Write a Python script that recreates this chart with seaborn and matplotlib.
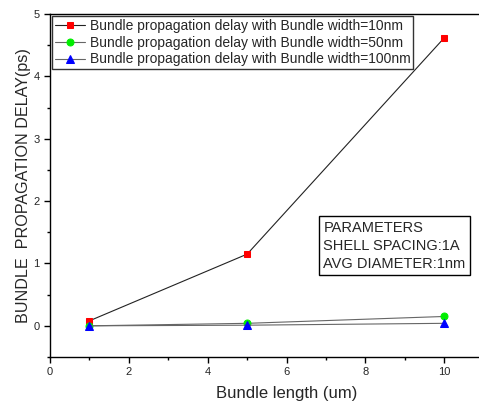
import matplotlib
matplotlib.use("Agg")
import matplotlib.pyplot as plt
import seaborn as sns
import pandas as pd
from matplotlib.ticker import MultipleLocator

bundle_length = [1, 5, 10]
delay_10nm = [0.08, 1.15, 4.62]
delay_50nm = [0.0, 0.04, 0.15]
delay_100nm = [0.0, 0.01, 0.04]

labels = [
    "Bundle propagation delay with Bundle width=10nm",
    "Bundle propagation delay with Bundle width=50nm",
    "Bundle propagation delay with Bundle width=100nm",
]

sns.set_theme(style="ticks")
plt.rcParams["font.family"] = ["Liberation Sans", "DejaVu Sans"]

fig = plt.figure(figsize=(4.79, 4.03), dpi=100)
ax = fig.add_axes([50 / 479, 46 / 403, 1 - 50 / 479 + 0.01, 343 / 403])

series = [
    (delay_10nm, "s", "#ff0000", "#222222", 4.5),
    (delay_50nm, "o", "#00ee00", "#666666", 5),
    (delay_100nm, "^", "#0000ff", "#666666", 6),
]
for (vals, mk, mc, lc, ms), lab in zip(series, labels):
    df = pd.DataFrame({"length": bundle_length, "delay": vals})
    sns.lineplot(data=df, x="length", y="delay", ax=ax, color=lc, lw=0.8,
                 marker=mk, markersize=ms, markerfacecolor=mc,
                 markeredgecolor=mc, label=lab)

ax.set_xlim(0, 11)
ax.set_ylim(-0.5, 5)
ax.xaxis.set_major_locator(MultipleLocator(2))
ax.xaxis.set_minor_locator(MultipleLocator(1))
ax.yaxis.set_major_locator(MultipleLocator(1))
ax.yaxis.set_minor_locator(MultipleLocator(0.5))
ax.tick_params(which="both", direction="out", labelsize=8, width=1, color="black")
ax.tick_params(which="major", length=4)
ax.tick_params(which="minor", length=2.5)
ax.spines["right"].set_visible(False)
for s in ["left", "bottom", "top"]:
    ax.spines[s].set_color("black")
    ax.spines[s].set_linewidth(1)

ax.set_xlabel("Bundle length (um)", fontsize=12, labelpad=4)
ax.xaxis.set_label_coords(0.545, -0.085)
ax.set_ylabel("BUNDLE  PROPAGATION DELAY(ps)", fontsize=11.6, labelpad=2)

leg = ax.legend(loc="upper left", fontsize=10, frameon=True, fancybox=False,
                edgecolor="black", handlelength=2.2, handletextpad=0.3,
                borderpad=0.2, labelspacing=0.2, borderaxespad=0.15)
leg.get_frame().set_linewidth(1)

ax.text(0.63, 0.397, "PARAMETERS\nSHELL SPACING:1A\nAVG DIAMETER:1nm",
        transform=ax.transAxes, fontsize=10.5, va="top", ha="left",
        linespacing=1.35,
        bbox=dict(boxstyle="square,pad=0.3", fc="white", ec="black", lw=1))

fig.savefig("out.png", dpi=100)
